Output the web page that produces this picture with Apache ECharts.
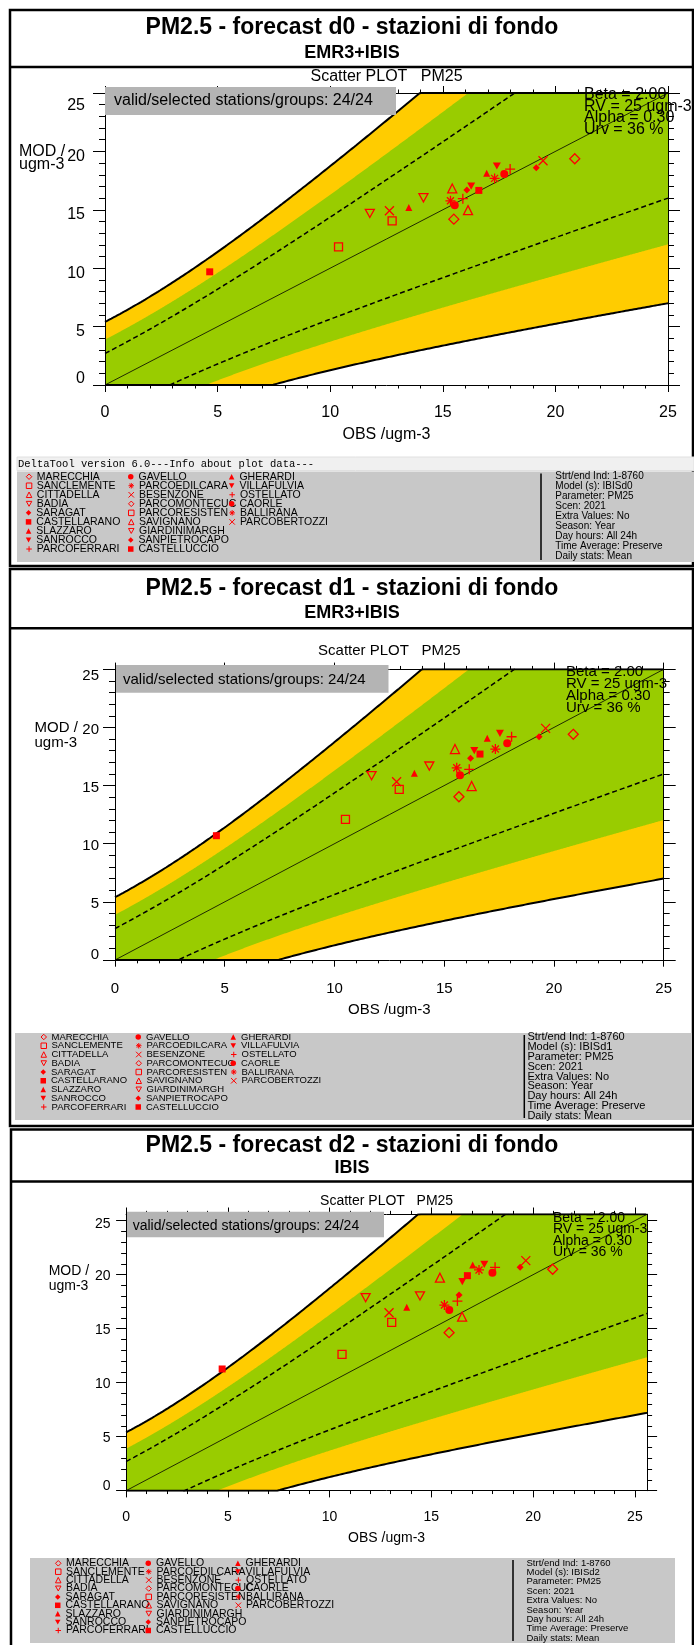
<!DOCTYPE html>
<html>
<head>
<meta charset="utf-8">
<title>PM2.5 forecast - stazioni di fondo</title>
<script src="https://cdn.jsdelivr.net/npm/echarts@6/dist/echarts.min.js"></script>
<style>
  html, body { margin: 0; padding: 0; background: #fff; }
  #chart { width: 694px; height: 1645px; }
</style>
</head>
<body>
<div id="chart"></div>
<script>
// ---- MQO parameters (DELTA tool, PM2.5) ----
const BETA = 2.0, RV = 25, ALPHA = 0.30, URV = 0.36;
const GREEN_K = 1.44;   // inner (green) band width, in units of U(O)

// ---- stations, in legend order ----
const stations = [
  'MARECCHIA', 'SANCLEMENTE', 'CITTADELLA', 'BADIA', 'SARAGAT', 'CASTELLARANO',
  'SLAZZARO', 'SANROCCO', 'PARCOFERRARI', 'GAVELLO', 'PARCOEDILCARA', 'BESENZONE',
  'PARCOMONTECUC', 'PARCORESISTEN', 'SAVIGNANO', 'GIARDINIMARGH', 'SANPIETROCAPO', 'CASTELLUCCIO',
  'GHERARDI', 'VILLAFULVIA', 'OSTELLATO', 'CAORLE', 'BALLIRANA', 'PARCOBERTOZZI'
];
const stationMarkers = [
  'odiam', 'osq', 'otri', 'otrid', 'fdiam', 'fsq', 'ftri', 'ftrid', 'plus', 'fcirc', 'aster', 'cross',
  'odiam', 'osq', 'otri', 'otrid', 'fdiam', 'fsq', 'ftri', 'ftrid', 'plus', 'fcirc', 'aster', 'cross'
];

// ---- yearly means (ugm-3): observed vs modelled, one pair per station ----
const obsD0 = [15.49, 10.37, 15.42, 11.76, 16.07, 4.65, 13.49, 16.26, 15.89, 15.53, 15.34, 12.63,
               20.86, 12.75, 16.12, 14.14, 19.15, 16.60, 16.95, 17.40, 17.99, 17.73, 17.30, 19.45];
const modD0 = [14.20, 11.83, 16.83, 14.69, 16.69, 9.69, 15.20, 17.03, 15.95, 15.40, 15.77, 14.92,
               19.37, 14.06, 14.97, 16.03, 18.60, 16.66, 18.12, 18.75, 18.49, 18.06, 17.69, 19.20];

const obsD1 = [15.67, 10.50, 15.49, 11.69, 16.20, 4.62, 13.64, 16.37, 16.14, 15.72, 15.57, 12.83,
               20.88, 12.95, 16.25, 14.32, 19.32, 16.63, 16.96, 17.54, 18.07, 17.87, 17.33, 19.62];
const modD1 = [14.04, 12.09, 18.14, 15.85, 17.34, 10.69, 16.05, 18.00, 16.40, 15.88, 16.53, 15.33,
               19.41, 14.68, 14.96, 16.68, 19.20, 17.71, 19.06, 19.49, 19.20, 18.63, 18.14, 19.92];

const obsD2 = [15.87, 10.61, 15.42, 11.77, 16.36, 4.72, 13.79, 16.52, 16.28, 15.88, 15.64, 12.92,
               20.96, 13.05, 16.51, 14.44, 19.36, 16.77, 17.03, 17.60, 18.13, 18.00, 17.34, 19.64];
const modD2 = [14.63, 12.63, 19.72, 17.87, 18.12, 11.27, 16.98, 19.35, 17.56, 16.73, 17.19, 16.48,
               20.50, 15.59, 16.11, 18.03, 20.68, 19.91, 20.90, 20.96, 20.68, 20.19, 20.44, 21.30];

// ---- axis ticks ----
const majorTicks = [0, 5, 10, 15, 20, 25];
const minorTicks = [1, 2, 3, 4, 6, 7, 8, 9, 11, 12, 13, 14, 16, 17, 18, 19, 21, 22, 23, 24];

// ---- panel texts ----
const panelTitles = ['PM2.5 - forecast d0 - stazioni di fondo', 'PM2.5 - forecast d1 - stazioni di fondo', 'PM2.5 - forecast d2 - stazioni di fondo'];
const panelSubtitles = ['EMR3+IBIS', 'EMR3+IBIS', 'IBIS'];
const panelModels = ['IBISd0', 'IBISd1', 'IBISd2'];
const panelObs = [obsD0, obsD1, obsD2];
const panelMod = [modD0, modD1, modD2];

const FONT = '"Liberation Sans", Arial, sans-serif';
const MONO = '"Liberation Mono", "DejaVu Sans Mono", monospace';
const RED = '#ff0000';
const ORANGE = '#ffcc00';
const GREEN = '#99cc00';
const TRI_DOWN = 'path://M0,0L10,0L5,9Z';

const markerStyles = {
  odiam: { symbol: 'diamond', size: 10, open: true },
  osq:   { symbol: 'rect', size: 8, open: true },
  otri:  { symbol: 'triangle', size: 9, open: true },
  otrid: { symbol: TRI_DOWN, size: 9, open: true },
  fdiam: { symbol: 'diamond', size: 7, open: false },
  fsq:   { symbol: 'rect', size: 7, open: false },
  ftri:  { symbol: 'triangle', size: 7, open: false },
  ftrid: { symbol: TRI_DOWN, size: 8, open: false },
  plus:  { symbol: 'path://M5,0L5,10M0,5L10,5', size: 10, open: true },
  fcirc: { symbol: 'circle', size: 8, open: false },
  aster: { symbol: 'path://M5,0L5,10M0,5L10,5M1.5,1.5L8.5,8.5M8.5,1.5L1.5,8.5', size: 10, open: true },
  cross: { symbol: 'path://M0,0L10,10M10,0L0,10', size: 9, open: true }
};

// ---- page layout of the three panels ----
const layouts = [
  { frame: [10, 10, 683, 556], band: 67, titleY: 16, subGap: 4,
    gx: 105, gy: 93, gw: 563, gh: 292, xmax: 25, ymax: 25, fs: 16,
    xTick: 7, yTick: 12, xLabGap: 20, xNameGap: 42, yLabGap: 20, yOff: { mid: 5, top: 13, zero: 6 },
    scatterY: 77, modX: 19, modY: 151.7, modY2: 165,
    mqoX: 584, mqoY: 94.5, mqoStep: 11.7,
    validBox: [105, 87, 291, 28], validTextX: 114, validTextY: 101,
    strip: [17, 457, 677, 13.5], stripTextY: 464,
    legBox: [17, 471.5, 677, 90.5], divider: [541, 473.5, 560],
    legText: [36.3, 138.5, 239.4], legRow0: 476.7, legStep: 9.04, legFs: 10.5,
    infoX: 555.3, infoY: 476.7, infoStep: 10, infoFs: 10 },
  { frame: [10, 569, 683, 557], band: 628.3, titleY: 576.3, subGap: 4,
    gx: 115, gy: 669.3, gw: 548.7, gh: 290.7, xmax: 25, ymax: 25, fs: 15,
    xTick: 6.7, yTick: 12, xLabGap: 21, xNameGap: 42.5, yLabGap: 16, yOff: { mid: 2, top: 7, zero: 5 },
    scatterY: 651, modX: 34.5, modY: 728.3, modY2: 743.3,
    mqoX: 566, mqoY: 672, mqoStep: 11.9,
    validBox: [116, 665, 272.5, 27.7], validTextX: 123, validTextY: 679.5,
    strip: null,
    legBox: [15, 1033, 677, 87], divider: [524.3, 1035, 1118],
    legText: [51, 146, 241], legRow0: 1037, legStep: 8.75, legFs: 9.5,
    infoX: 527.4, infoY: 1037.3, infoStep: 9.8, infoFs: 11 },
  { frame: [11, 1129.5, 682, 530], band: 1181.5, titleY: 1134, subGap: 1,
    gx: 126.1, gy: 1214.2, gw: 521, gh: 276.5, xmax: 25.6, ymax: 25.6, fs: 14,
    xTick: 6.7, yTick: 10, xLabGap: 19, xNameGap: 40.6, yLabGap: 15.5, yOff: { mid: 1, top: 3, zero: 5 },
    scatterY: 1200.7, modX: 48.7, modY: 1270.7, modY2: 1286,
    mqoX: 553, mqoY: 1218.3, mqoStep: 11.2,
    validBox: [127, 1211.7, 257, 25.6], validTextX: 132.7, validTextY: 1225.7,
    strip: null,
    legBox: [30, 1558, 645, 85], divider: [513, 1560, 1641],
    legText: [65.5, 156, 245.6], legRow0: 1563.3, legStep: 8.4, legFs: 10.5,
    infoX: 526.5, infoY: 1563, infoStep: 9.4, infoFs: 9.5 }
];

// measurement uncertainty U(O) of the MQO
function mqoU(o) {
  return URV * Math.sqrt((1 - ALPHA * ALPHA) * o * o + ALPHA * ALPHA * RV * RV);
}
function sampleObs(xmax) {
  const n = 800, a = [];
  for (let i = 0; i <= n; i++) a.push(xmax * i / n);
  return a;
}
const clampTo = (v, hi) => Math.max(0, Math.min(hi, v));

function bandPolygon(L, k) {
  const xs = sampleObs(L.xmax);
  const top = xs.map(o => [o, clampTo(o + k * mqoU(o), L.ymax)]);
  const bot = xs.map(o => [o, clampTo(o - k * mqoU(o), L.ymax)]).reverse();
  return top.concat(bot);
}

function textEl(x, y, text, size, opt) {
  opt = opt || {};
  const align = opt.align || 'left';
  return {
    type: 'text', z: opt.z || 60, silent: true,
    style: {
      text: text, x: x, y: y,
      fontFamily: opt.family || FONT, fontSize: size, fontWeight: opt.bold ? 'bold' : 'normal',
      fill: '#000',
      textAlign: align, align: align,
      textVerticalAlign: 'middle', verticalAlign: 'middle'
    }
  };
}
function rectEl(r, fill, stroke, lw, z) {
  return { type: 'rect', z: z, silent: true,
    shape: { x: r[0], y: r[1], width: r[2], height: r[3] },
    style: { fill: fill, stroke: stroke || null, lineWidth: lw || 0 } };
}
function lineEl(x1, y1, x2, y2, lw, z) {
  return { type: 'line', z: z || 30, silent: true,
    shape: { x1: x1, y1: y1, x2: x2, y2: y2 },
    style: { stroke: '#000', lineWidth: lw } };
}

const LEG_ICON = 5.5;
const grids = [], xAxes = [], yAxes = [], series = [], legends = [], titles = [], graphics = [];

layouts.forEach((L, pi) => {
  grids.push({ left: L.gx, top: L.gy, width: L.gw, height: L.gh, containLabel: false, outerBoundsMode: 'none', show: false });

  const lab = { fontFamily: FONT, fontSize: L.fs, color: '#000' };
  const ls = { color: '#000', width: 1 };
  const base = { type: 'value', gridIndex: pi, min: 0, splitLine: { show: false }, z: 10, silent: true };
  const lastMajor = majorTicks[majorTicks.length - 1];

  // x axes: bottom major, bottom minor, top major, top minor
  xAxes.push(Object.assign({}, base, { max: L.xmax, position: 'bottom',
    axisLine: { show: true, onZero: false, lineStyle: ls },
    axisTick: { show: true, customValues: majorTicks, length: L.xTick, lineStyle: ls },
    axisLabel: Object.assign({ show: true, customValues: majorTicks, margin: L.xLabGap }, lab),
    name: 'OBS /ugm-3', nameLocation: 'middle', nameGap: L.xNameGap, nameTextStyle: lab }));
  xAxes.push(Object.assign({}, base, { max: L.xmax, position: 'bottom',
    axisLine: { show: false, onZero: false },
    axisTick: { show: true, customValues: minorTicks, length: L.xTick / 2, lineStyle: ls },
    axisLabel: { show: false } }));
  xAxes.push(Object.assign({}, base, { max: L.xmax, position: 'top',
    axisLine: { show: true, onZero: false, lineStyle: ls },
    axisTick: { show: true, customValues: majorTicks, length: L.xTick, lineStyle: ls },
    axisLabel: { show: false } }));
  xAxes.push(Object.assign({}, base, { max: L.xmax, position: 'top',
    axisLine: { show: false, onZero: false },
    axisTick: { show: true, customValues: minorTicks, length: L.xTick / 2, lineStyle: ls },
    axisLabel: { show: false } }));

  // y axes: left major, left minor, right major, right minor
  yAxes.push(Object.assign({}, base, { max: L.ymax, position: 'left',
    axisLine: { show: true, onZero: false, lineStyle: ls },
    axisTick: { show: true, customValues: majorTicks, length: L.yTick, lineStyle: ls },
    axisLabel: Object.assign({ show: true, customValues: majorTicks, margin: L.yLabGap,
      formatter: v => '{' + (v === 0 ? 'z' : (v === lastMajor ? 't' : 'm')) + '|' + v + '}',
      rich: {
        z: Object.assign({ padding: [0, 0, 2 * L.yOff.zero, 0] }, lab),
        t: Object.assign({ padding: [2 * L.yOff.top, 0, 0, 0] }, lab),
        m: Object.assign({ padding: [2 * L.yOff.mid, 0, 0, 0] }, lab)
      } }, lab) }));
  yAxes.push(Object.assign({}, base, { max: L.ymax, position: 'left',
    axisLine: { show: false, onZero: false },
    axisTick: { show: true, customValues: minorTicks, length: L.yTick / 2, lineStyle: ls },
    axisLabel: { show: false } }));
  yAxes.push(Object.assign({}, base, { max: L.ymax, position: 'right',
    axisLine: { show: true, onZero: false, lineStyle: ls },
    axisTick: { show: true, customValues: majorTicks, length: L.yTick, lineStyle: ls },
    axisLabel: { show: false } }));
  yAxes.push(Object.assign({}, base, { max: L.ymax, position: 'right',
    axisLine: { show: false, onZero: false },
    axisTick: { show: true, customValues: minorTicks, length: L.yTick / 2, lineStyle: ls },
    axisLabel: { show: false } }));

  const ax = { xAxisIndex: pi * 4, yAxisIndex: pi * 4 };

  // MQO bands: orange = within beta*U, green = inner band
  [[BETA, ORANGE], [GREEN_K, GREEN]].forEach(([k, fill], bi) => {
    const poly = bandPolygon(L, k);
    series.push(Object.assign({ type: 'custom', coordinateSystem: 'cartesian2d', silent: true, z: 1 + bi,
      clip: true, data: [[0, 0]],
      renderItem: (params, api) => ({ type: 'polygon', shape: { points: poly.map(p => api.coord(p)) },
        style: { fill: fill } }) }, ax));
  });

  const xs = sampleObs(L.xmax);
  const lineBase = Object.assign({ type: 'line', showSymbol: false, symbol: 'none', silent: true, clip: true, z: 4 }, ax);
  // beta*U limits (outline of the band)
  series.push(Object.assign({}, lineBase, { data: xs.map(o => [o, clampTo(o + BETA * mqoU(o), L.ymax)]),
    lineStyle: { color: '#000', width: 2 } }));
  series.push(Object.assign({}, lineBase, { data: xs.map(o => [o, clampTo(o - BETA * mqoU(o), L.ymax)]),
    lineStyle: { color: '#000', width: 2 } }));
  // +/- U limits
  series.push(Object.assign({}, lineBase, { data: xs.map(o => [o, o + mqoU(o)]),
    lineStyle: { color: '#000', width: 1.5, type: [5, 3] } }));
  series.push(Object.assign({}, lineBase, { data: xs.map(o => [o, o - mqoU(o)]),
    lineStyle: { color: '#000', width: 1.5, type: [5, 3] } }));
  // 1:1 line
  series.push(Object.assign({}, lineBase, { data: [[0, 0], [L.xmax, L.xmax]],
    lineStyle: { color: '#000', width: 0.8 } }));

  // stations
  const obs = panelObs[pi], mod = panelMod[pi];
  stations.forEach((name, i) => {
    const m = markerStyles[stationMarkers[i]];
    series.push(Object.assign({ type: 'scatter', name: name, z: 6,
      data: [[obs[i], mod[i]]],
      symbol: m.symbol, symbolSize: m.size, symbolKeepAspect: true,
      itemStyle: m.open
        ? { color: 'rgba(0,0,0,0)', borderColor: RED, borderWidth: 1.3, opacity: 1 }
        : { color: RED, borderWidth: 0, opacity: 1 },
      emphasis: { disabled: true } }, ax));
  });

  // station legend: three columns of nine, one entry per row
  stations.forEach((name, i) => {
    const col = Math.floor(i / 9), row = i % 9;
    const textH = L.legFs + 0.5;
    legends.push({ orient: 'vertical', padding: 0,
      left: L.legText[col] - LEG_ICON - 5,
      top: L.legRow0 + row * L.legStep - textH / 2,
      itemWidth: LEG_ICON, itemHeight: LEG_ICON, itemGap: 0,
      symbolKeepAspect: true, selectedMode: false, z: 50,
      itemStyle: { borderWidth: 1 },
      textStyle: { fontFamily: FONT, fontSize: L.legFs, color: '#000' },
      data: [name] });
  });

  // panel title
  titles.push({ text: panelTitles[pi], subtext: panelSubtitles[pi], left: 352, top: L.titleY,
    textAlign: 'center', padding: 0, itemGap: L.subGap,
    textStyle: { fontFamily: FONT, fontSize: 23, fontWeight: 'bold', color: '#000', lineHeight: 24 },
    subtextStyle: { fontFamily: FONT, fontSize: 18, fontWeight: 'bold', color: '#000', lineHeight: 18 } });

  // frame and header rule
  const f = L.frame;
  graphics.push(rectEl(f, 'none', '#000', 2.5, 30));
  graphics.push(lineEl(f[0], L.band, f[0] + f[2], L.band, 2.5, 30));

  // plot header, axis name, MQO parameters
  graphics.push(textEl(L.gx + L.gw / 2, L.scatterY, 'Scatter PLOT   PM25', L.fs, { align: 'center' }));
  graphics.push(textEl(L.modX, L.modY, 'MOD /', L.fs));
  graphics.push(textEl(L.modX, L.modY2, 'ugm-3', L.fs));
  const mqoLines = ['Beta = ' + BETA.toFixed(2), 'RV = ' + RV + ' ugm-3', 'Alpha = ' + ALPHA.toFixed(2), 'Urv = ' + Math.round(URV * 100) + ' %'];
  mqoLines.forEach((t, i) => graphics.push(textEl(L.mqoX, L.mqoY + i * L.mqoStep, t, L.fs, { z: 62 })));

  graphics.push(rectEl(L.validBox, '#b4b4b4', null, 0, 55));
  graphics.push(textEl(L.validTextX, L.validTextY, 'valid/selected stations/groups: ' + stations.length + '/' + stations.length, L.fs, { z: 56 }));

  // info area
  if (L.strip) {
    graphics.push(rectEl(L.strip, '#f0f0f0', '#e0e0e0', 1, 40));
    graphics.push(textEl(L.strip[0] + 1, L.stripTextY, 'DeltaTool version 6.0---Info about plot data---', 10.5, { family: MONO, z: 41 }));
  }
  graphics.push(rectEl(L.legBox, '#c8c8c8', null, 0, 40));
  graphics.push(lineEl(L.divider[0], L.divider[1], L.divider[0], L.divider[2], 1.5, 41));
  const info = ['Strt/end Ind: 1-8760', 'Model (s): ' + panelModels[pi], 'Parameter: PM25', 'Scen: 2021',
    'Extra Values: No', 'Season: Year', 'Day hours: All 24h', 'Time Average: Preserve', 'Daily stats: Mean'];
  info.forEach((t, i) => graphics.push(textEl(L.infoX, L.infoY + i * L.infoStep, t, L.infoFs, { z: 42 })));
});

const chart = echarts.init(document.getElementById('chart'), null, { renderer: 'canvas' });
chart.setOption({
  animation: false,
  backgroundColor: '#fff',
  title: titles,
  grid: grids,
  xAxis: xAxes,
  yAxis: yAxes,
  legend: legends,
  graphic: { elements: graphics },
  series: series
});
</script>
</body>
</html>
